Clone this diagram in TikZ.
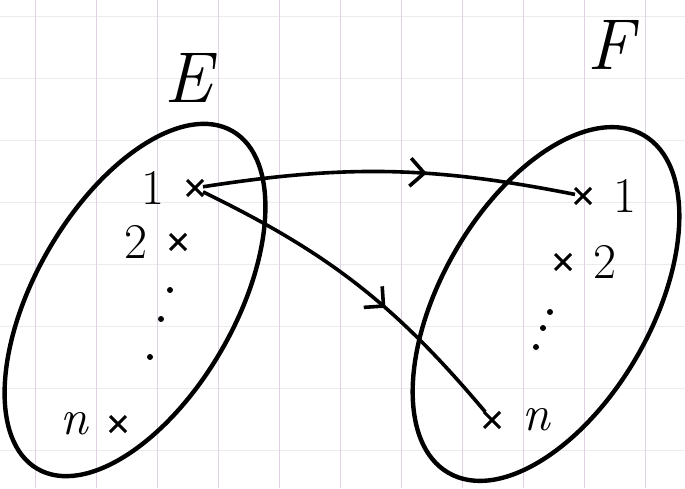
\documentclass[tikz,border=0pt]{standalone}
\usepackage{amsmath}
\usepackage{tikz}
\usetikzlibrary{arrows.meta,positioning,shapes.geometric,shapes.misc,decorations.markings}

\definecolor{gridpink}{RGB}{222,210,228}
\definecolor{gridgray}{RGB}{236,234,238}

\begin{document}
\begin{tikzpicture}[x=1pt,y=1pt,
  gridv/.style={draw=gridpink,line width=1pt},
  gridh/.style={draw=gridgray,line width=0.8pt},
  setbox/.style={draw,ellipse,line width=4.4pt,minimum width=390pt,minimum height=200pt,inner sep=0pt},
  setname/.style={font=\fontsize{72}{72}\selectfont\itshape},
  elem/.style={cross out,draw,line width=3pt,minimum size=13pt,inner sep=0pt},
  num/.style={font=\fontsize{50}{50}\selectfont,inner sep=0pt},
  dotmark/.style={circle,fill,inner sep=0pt,minimum size=6pt},
  maparrow/.style={line width=3.6pt,postaction={decorate},
    decoration={markings,mark=at position 0.6 with {\arrow{Straight Barb[length=14pt,width=28pt,line width=3.6pt]}}}}]
\fill[white] (0,0) rectangle (685,488);
\useasboundingbox (0,0) rectangle (685,488);
% grid of the paper
\foreach \gy in {38,100,...,475} \draw[gridh] (0,\gy) -- (685,\gy);
\foreach \gx in {35,96,...,645} \draw[gridv] (\gx,0) -- (\gx,488);

% the two sets
\node[setbox,rotate=60] (setE) at (135,188) {};
\node[setbox,rotate=60,minimum height=210pt] (setF) at (546,184) {};
\node[setname] (nameE) at (188,410) {E};
\node[setname] (nameF) at (610,443) {F};

% elements of E
\node[elem] (e1) at (195,300) {};
\node[elem] (e2) at (178,246) {};
\node[elem] (en) at (118,64) {};
\node[num,left=22pt of e1] (le1) {1};
\node[num,left=22pt of e2] (le2) {2};
\node[num,left=22pt of en] (len) {\itshape n};
\node[dotmark] (de1) at (170,198) {};
\node[dotmark] (de2) at (161,169) {};
\node[dotmark] (de3) at (150,131) {};

% elements of F
\node[elem] (f1) at (583,292) {};
\node[elem] (f2) at (563,226) {};
\node[elem] (fn) at (492,68) {};
\node[num,right=22pt of f1] (lf1) {1};
\node[num,right=22pt of f2] (lf2) {2};
\node[num,right=22pt of fn] (lfn) {\itshape n};
\node[dotmark] (df1) at (550,176) {};
\node[dotmark] (df2) at (543,160) {};
\node[dotmark] (df3) at (536,141) {};

% maps
\draw[maparrow] (e1) to[bend left=10] (f1);
\draw[maparrow] (e1) to[bend left=12] (fn);
\end{tikzpicture}
\end{document}
